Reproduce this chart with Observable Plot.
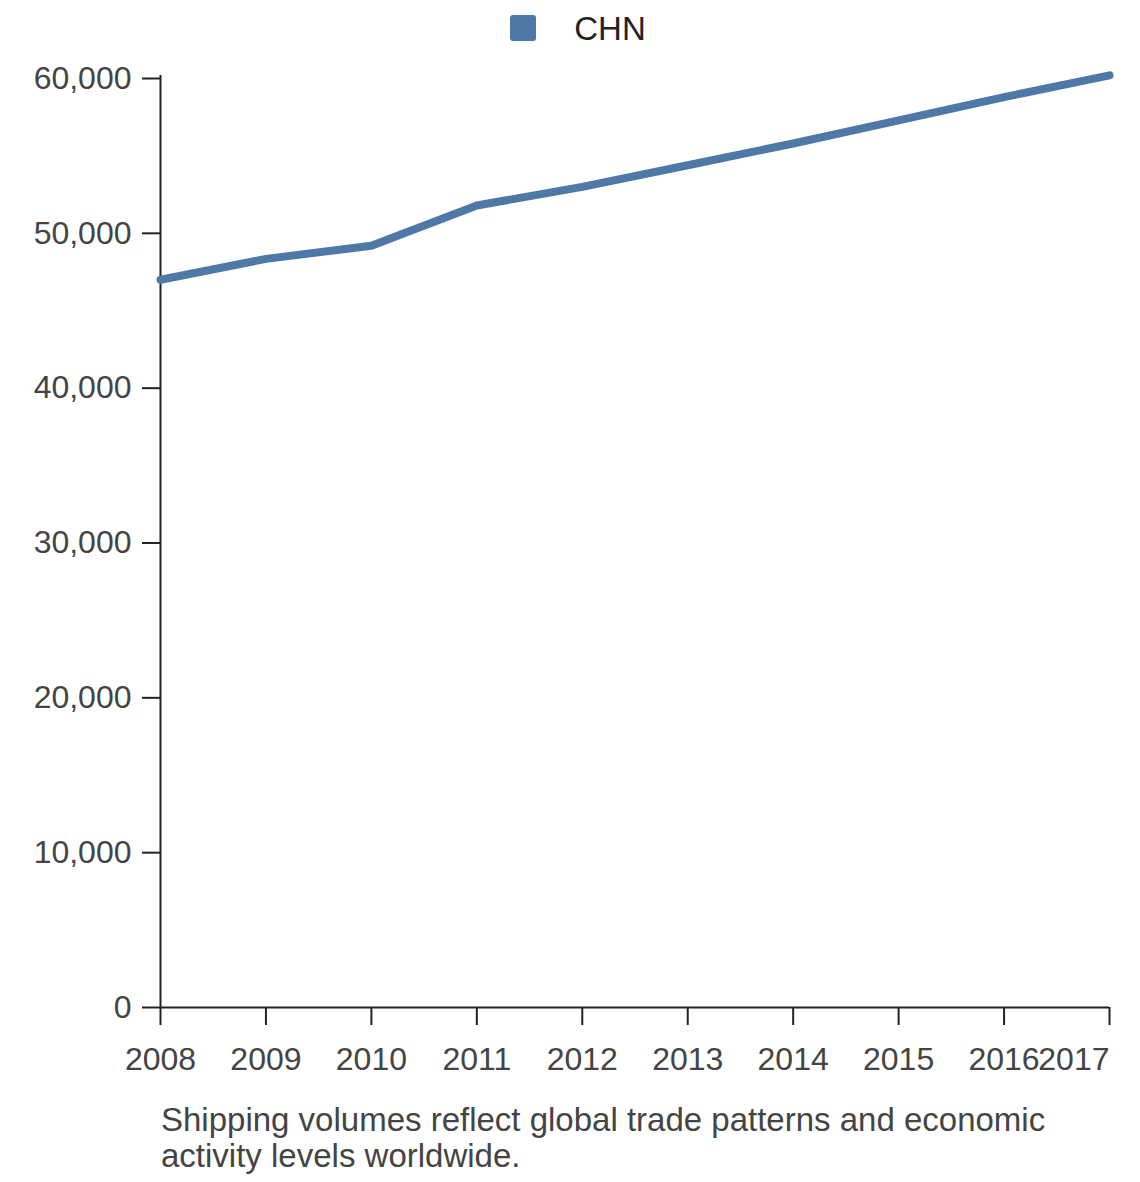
<!DOCTYPE html>
<html>
<head>
<meta charset="utf-8">
<script src="https://cdn.jsdelivr.net/npm/d3@7"></script>
<script src="https://cdn.jsdelivr.net/npm/@observablehq/plot@0.6"></script>
<style>
  html, body { margin: 0; padding: 0; background: #fff; }
  body { width: 1140px; font-family: "Liberation Sans", Arial, sans-serif; }
  #legend { height: 56px; display: flex; align-items: center; justify-content: center; gap: 0; padding-left: 10px; }
  #legend .sw { width: 26px; height: 26px; background: #4e79a7; border-radius: 3px; margin-right: 38px; margin-left: 6px; }
  #legend .lb { font-size: 33px; color: #222; margin-top: 2px; }
  #caption { margin-left: 161px; margin-top: 17px; font-size: 33px; line-height: 36px; color: #444; width: 920px; }
  svg { display: block; }
</style>
</head>
<body>
<div id="legend"><div class="sw"></div><div class="lb">CHN</div></div>
<div id="chart"></div>
<div id="caption">Shipping volumes reflect global trade patterns and economic activity levels worldwide.</div>
<script>
const series = "CHN";
const years = [2008, 2009, 2010, 2011, 2012, 2013, 2014, 2015, 2016, 2017];
const values = [47000, 48350, 49200, 51800, 53000, 54400, 55800, 57300, 58800, 60200];
const yTicks = [0, 10000, 20000, 30000, 40000, 50000, 60000];

const data = years.map((y, i) => ({year: y, value: values[i], series}));

const chart = Plot.plot({
  width: 1140,
  height: 1029,
  marginLeft: 160,
  marginRight: 31,
  marginTop: 22,
  marginBottom: 78,
  style: {fontFamily: "'Liberation Sans', Arial, sans-serif", fontSize: "32px", color: "#444", background: "#fff"},
  x: {domain: [2008, 2017], ticks: years, tickFormat: d => String(d)},
  y: {domain: [0, 60000], ticks: yTicks, tickFormat: d3.format(",")},
  marks: [
    Plot.axisX({ticks: years, tickFormat: d => String(d), tickSize: 18, tickPadding: 22, stroke: "#222", strokeWidth: 2, fill: "#444", fontSize: 32, label: null}),
    Plot.axisY({ticks: yTicks, tickFormat: d3.format(","), tickSize: 18, tickPadding: 11, stroke: "#222", strokeWidth: 2, fill: "#444", fontSize: 32, label: null}),
    Plot.ruleX([2008], {y1: 0, y2: 60200, stroke: "#222", strokeWidth: 2}),
    Plot.ruleY([0], {stroke: "#222", strokeWidth: 2}),
    Plot.line(data, {x: "year", y: "value", stroke: "#4e79a7", strokeWidth: 8, strokeLinejoin: "round"})
  ]
});
document.getElementById("chart").appendChild(chart);

// anchor the last x tick label to the end so it stays inside the frame
const xTexts = chart.querySelectorAll('g[aria-label="x-axis tick label"] text');
if (xTexts.length) {
  const last = xTexts[xTexts.length - 1];
  last.setAttribute("text-anchor", "end");
}
</script>
</body>
</html>
